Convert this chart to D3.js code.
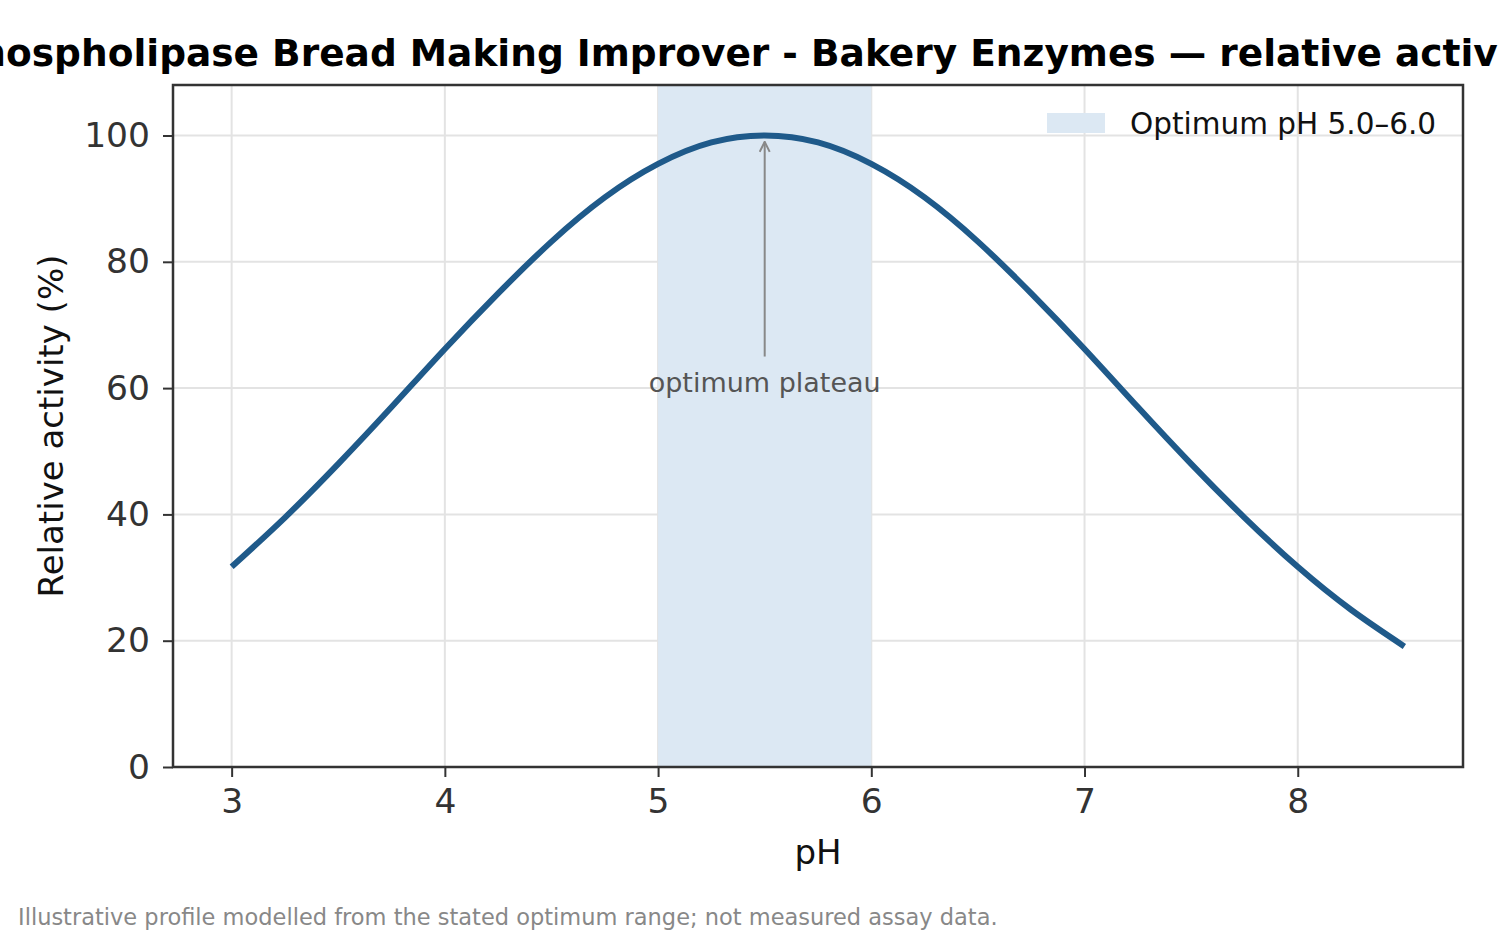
<!DOCTYPE html>
<html>
<head>
<meta charset="utf-8">
<script src="https://cdn.jsdelivr.net/npm/d3@7"></script>
<style>
  body { margin: 0; background: #fff; }
  text { font-family: "DejaVu Sans", sans-serif; }
</style>
</head>
<body>
<div id="chart"></div>
<script>
// Chart data
var phValues = [3.0, 3.25, 3.5, 3.75, 4.0, 4.25, 4.5, 4.75, 5.0, 5.25, 5.5,
                5.75, 6.0, 6.25, 6.5, 6.75, 7.0, 7.25, 7.5, 7.75, 8.0, 8.25, 8.5];
var activityValues = [31.7, 39.5, 48.0, 57.0, 66.2, 75.0, 83.2, 90.2, 95.5, 98.9, 100,
                      98.9, 95.5, 90.2, 83.2, 75.0, 66.2, 57.0, 48.0, 39.5, 31.7, 24.9, 19.1];
var optimumRange = [5.0, 6.0];
var xTicks = [3, 4, 5, 6, 7, 8];
var yTicks = [0, 20, 40, 60, 80, 100];

// Set global variables (SVG dimensions, chart margins)
var svgWidth = 1500;
var svgHeight = 937;

var margin = {
  top: 85,
  right: 37,
  bottom: 170,
  left: 173
};

var chartWidth = svgWidth - margin.left - margin.right;
var chartHeight = svgHeight - margin.top - margin.bottom;

var svg = d3.select("#chart")
  .append("svg")
  .attr("width", svgWidth)
  .attr("height", svgHeight);

var chartGroup = svg.append("g")
  .attr("transform", `translate(${margin.left}, ${margin.top})`);

// scales (matplotlib-style 5% padding on x)
var xPad = (8.5 - 3.0) * 0.05;
var xScale = d3.scaleLinear()
  .domain([3.0 - xPad, 8.5 + xPad])
  .range([0, chartWidth]);

var yScale = d3.scaleLinear()
  .domain([0, 108])
  .range([chartHeight, 0]);

// grid lines
chartGroup.append("g").selectAll("line")
  .data(xTicks)
  .enter()
  .append("line")
  .attr("x1", d => xScale(d))
  .attr("x2", d => xScale(d))
  .attr("y1", 0)
  .attr("y2", chartHeight)
  .attr("stroke", "#e3e3e3")
  .attr("stroke-width", 2);

chartGroup.append("g").selectAll("line")
  .data(yTicks)
  .enter()
  .append("line")
  .attr("x1", 0)
  .attr("x2", chartWidth)
  .attr("y1", d => yScale(d))
  .attr("y2", d => yScale(d))
  .attr("stroke", "#e3e3e3")
  .attr("stroke-width", 2);

// optimum band
chartGroup.append("rect")
  .attr("x", xScale(optimumRange[0]))
  .attr("y", 0)
  .attr("width", xScale(optimumRange[1]) - xScale(optimumRange[0]))
  .attr("height", chartHeight)
  .attr("fill", "#dce8f3");

// curve
var points = phValues.map((p, i) => ({ ph: p, act: activityValues[i] }));
var line = d3.line()
  .x(d => xScale(d.ph))
  .y(d => yScale(d.act))
  .curve(d3.curveNatural);

chartGroup.append("path")
  .datum(points)
  .attr("d", line)
  .attr("fill", "none")
  .attr("stroke", "#1f5a8a")
  .attr("stroke-width", 6)
  .attr("stroke-linecap", "butt");

// annotation arrow
var peakX = xScale(5.5);
svg.append("defs").append("marker")
  .attr("id", "arrow")
  .attr("viewBox", "0 0 12 12")
  .attr("refX", 11)
  .attr("refY", 6)
  .attr("markerWidth", 12)
  .attr("markerHeight", 12)
  .attr("markerUnits", "userSpaceOnUse")
  .attr("orient", "auto")
  .append("path")
  .attr("d", "M1,1 L11,6 L1,11")
  .attr("fill", "none")
  .attr("stroke", "#888")
  .attr("stroke-width", 2);

chartGroup.append("line")
  .attr("x1", peakX)
  .attr("x2", peakX)
  .attr("y1", yScale(65))
  .attr("y2", yScale(99))
  .attr("stroke", "#888")
  .attr("stroke-width", 2)
  .attr("marker-end", "url(#arrow)");

chartGroup.append("text")
  .attr("x", peakX)
  .attr("y", yScale(59.4))
  .attr("text-anchor", "middle")
  .attr("font-size", 27)
  .attr("fill", "#555")
  .text("optimum plateau");

// axes
var xAxis = d3.axisBottom(xScale).tickValues(xTicks).tickFormat(d3.format("d"))
  .tickSize(10).tickPadding(12);
var yAxis = d3.axisLeft(yScale).tickValues(yTicks).tickFormat(d3.format("d"))
  .tickSize(10).tickPadding(13);

var xAxisGroup = chartGroup.append("g")
  .attr("transform", `translate(0, ${chartHeight})`)
  .call(xAxis);

var yAxisGroup = chartGroup.append("g")
  .call(yAxis);

[xAxisGroup, yAxisGroup].forEach(function(g) {
  g.select(".domain").remove();
  g.selectAll(".tick line").attr("stroke", "#333").attr("stroke-width", 2);
  g.selectAll(".tick text")
    .attr("font-size", 34.5)
    .attr("fill", "#333")
    .attr("font-family", "DejaVu Sans");
});

// frame
chartGroup.append("rect")
  .attr("x", 0)
  .attr("y", 0)
  .attr("width", chartWidth)
  .attr("height", chartHeight)
  .attr("fill", "none")
  .attr("stroke", "#333")
  .attr("stroke-width", 2.5);

// legend
var legend = chartGroup.append("g")
  .attr("transform", `translate(${chartWidth - 416}, 28)`);
legend.append("rect")
  .attr("x", 0)
  .attr("y", 0)
  .attr("width", 58)
  .attr("height", 20)
  .attr("fill", "#dce8f3");
legend.append("text")
  .attr("x", 83)
  .attr("y", 21)
  .attr("font-size", 29.5)
  .attr("fill", "#111")
  .text("Optimum pH 5.0–6.0");

// axis labels
chartGroup.append("text")
  .attr("x", chartWidth / 2)
  .attr("y", chartHeight + 97)
  .attr("text-anchor", "middle")
  .attr("font-size", 34)
  .attr("fill", "#111")
  .text("pH");

chartGroup.append("text")
  .attr("transform", "rotate(-90)")
  .attr("x", -chartHeight / 2)
  .attr("y", -110)
  .attr("text-anchor", "middle")
  .attr("font-size", 34)
  .attr("fill", "#111")
  .text("Relative activity (%)");

// title (wider than the figure, clipped at both edges like the original)
svg.append("text")
  .attr("x", margin.left + chartWidth / 2)
  .attr("y", 66)
  .attr("text-anchor", "middle")
  .attr("font-size", 37.5)
  .attr("font-weight", "bold")
  .attr("fill", "#000")
  .text("Phospholipase Bread Making Improver - Bakery Enzymes — relative activity vs pH");

// footnote
svg.append("text")
  .attr("x", 18)
  .attr("y", 925)
  .attr("font-size", 22.5)
  .attr("fill", "#888")
  .text("Illustrative profile modelled from the stated optimum range; not measured assay data.");
</script>
</body>
</html>
